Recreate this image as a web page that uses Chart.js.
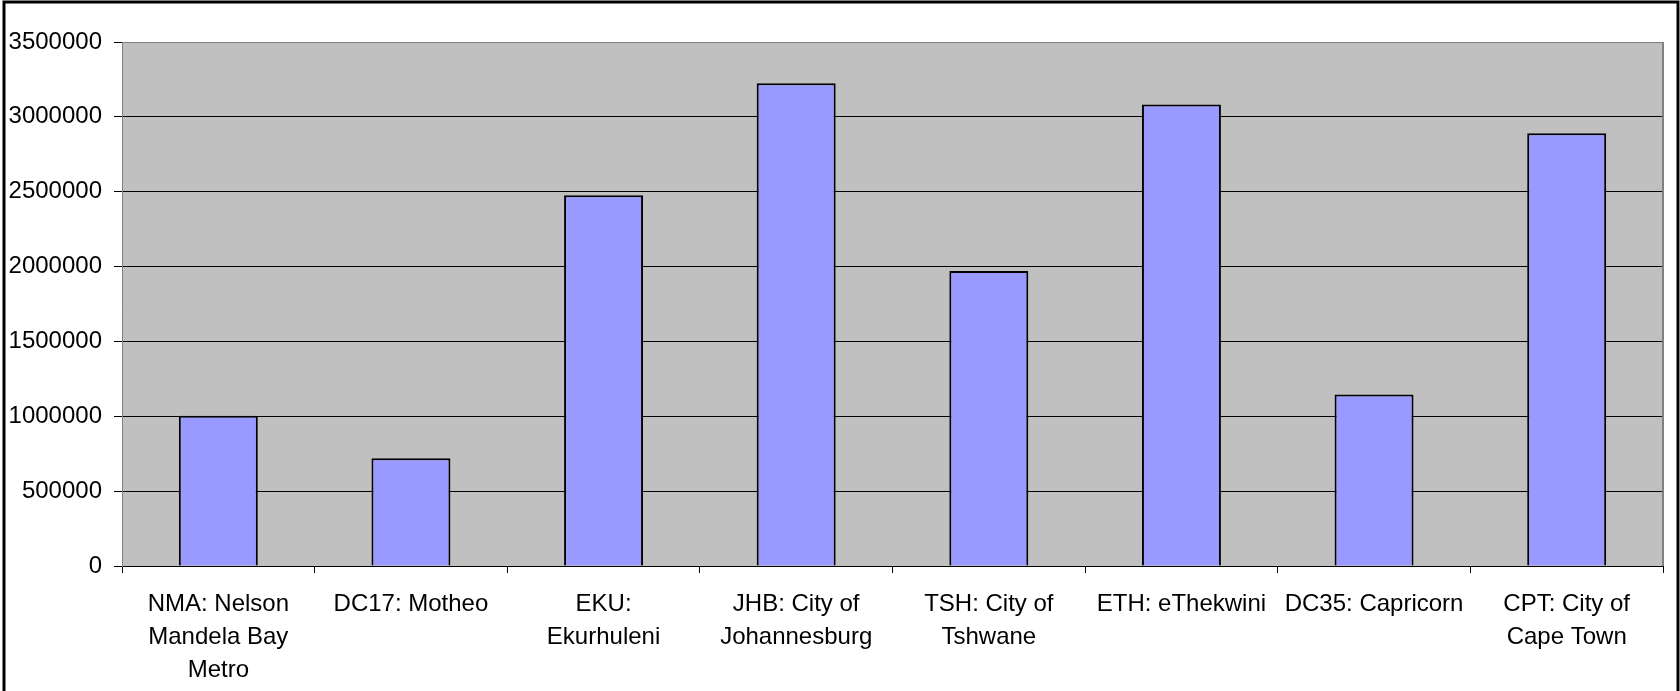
<!DOCTYPE html>
<html>
<head>
<meta charset="utf-8">
<script src="https://cdn.jsdelivr.net/npm/chart.js@4"></script>
<style>
    html, body { margin: 0; padding: 0; background: #fff; }
    canvas { display: block; }
</style>
</head>
<body>
<canvas id="chart" width="1680" height="691"></canvas>
<script>
// Municipality labels (wrapped as in the original)
const categories = [
    ['NMA: Nelson', 'Mandela Bay', 'Metro'],
    ['DC17: Motheo'],
    ['EKU:', 'Ekurhuleni'],
    ['JHB: City of', 'Johannesburg'],
    ['TSH: City of', 'Tshwane'],
    ['ETH: eThekwini'],
    ['DC35: Capricorn'],
    ['CPT: City of', 'Cape Town']
];

// Values
const values = [1003000, 719000, 2476000, 3224000, 1970000, 3082000, 1146000, 2890000];

// Y axis range
const yMin = 0;
const yMax = 3500000;
const yStep = 500000;

const FONT = "'Liberation Sans', Arial, sans-serif";

// Grey plot background, grey right frame and the outer black border (no bottom edge)
const framePlugin = {
    id: 'frame',
    beforeDraw(chart) {
        const { ctx, chartArea: a } = chart;
        ctx.save();
        ctx.fillStyle = '#C0C0C0';
        ctx.fillRect(a.left, a.top, a.right - a.left, a.bottom - a.top);
        ctx.restore();
    },
    beforeDatasetsDraw(chart) {
        const { ctx, chartArea: a } = chart;
        ctx.save();
        ctx.strokeStyle = '#808080';
        ctx.lineWidth = 2;
        ctx.beginPath();
        ctx.moveTo(a.right, a.top);
        ctx.lineTo(a.right, a.bottom);
        ctx.stroke();
        ctx.restore();
    },
    afterDraw(chart) {
        const ctx = chart.ctx;
        ctx.save();
        ctx.strokeStyle = '#000';
        ctx.lineWidth = 3;
        ctx.beginPath();
        ctx.moveTo(4, 691);
        ctx.lineTo(4, 2);
        ctx.lineTo(1678, 2);
        ctx.lineTo(1678, 691);
        ctx.stroke();
        ctx.restore();
    }
};

const ctx = document.getElementById('chart').getContext('2d');
new Chart(ctx, {
    type: 'bar',
    data: {
        labels: categories,
        datasets: [{
            data: values,
            backgroundColor: '#9999FF',
            borderColor: '#000000',
            borderWidth: 2,
            categoryPercentage: 1.0,
            barPercentage: 0.41
        }]
    },
    options: {
        responsive: false,
        animation: false,
        devicePixelRatio: 1,
        layout: {
            padding: { left: 0, right: 17, top: 42, bottom: 0 }
        },
        plugins: {
            legend: { display: false },
            title: { display: false },
            tooltip: { enabled: false }
        },
        scales: {
            x: {
                afterFit: (scale) => { scale.height = 125; },
                grid: {
                    offset: true,
                    drawOnChartArea: false,
                    drawTicks: true,
                    tickLength: 7,
                    color: '#000'
                },
                border: { color: '#000', width: 1 },
                ticks: {
                    color: '#000',
                    font: { family: FONT, size: 24, lineHeight: 1.375 },
                    padding: 15,
                    maxRotation: 0,
                    autoSkip: false
                }
            },
            y: {
                min: yMin,
                max: yMax,
                afterFit: (scale) => { scale.width = 122; },
                grid: {
                    color: (c) => (c.tick && c.tick.value === yMax ? '#808080' : '#000'),
                    tickColor: '#000',
                    lineWidth: 1,
                    tickLength: 8
                },
                border: { color: '#808080', width: 1 },
                ticks: {
                    stepSize: yStep,
                    color: '#000',
                    padding: 12,
                    font: { family: FONT, size: 24 },
                    callback: (v) => String(v)
                }
            }
        }
    },
    plugins: [framePlugin]
});
</script>
</body>
</html>
